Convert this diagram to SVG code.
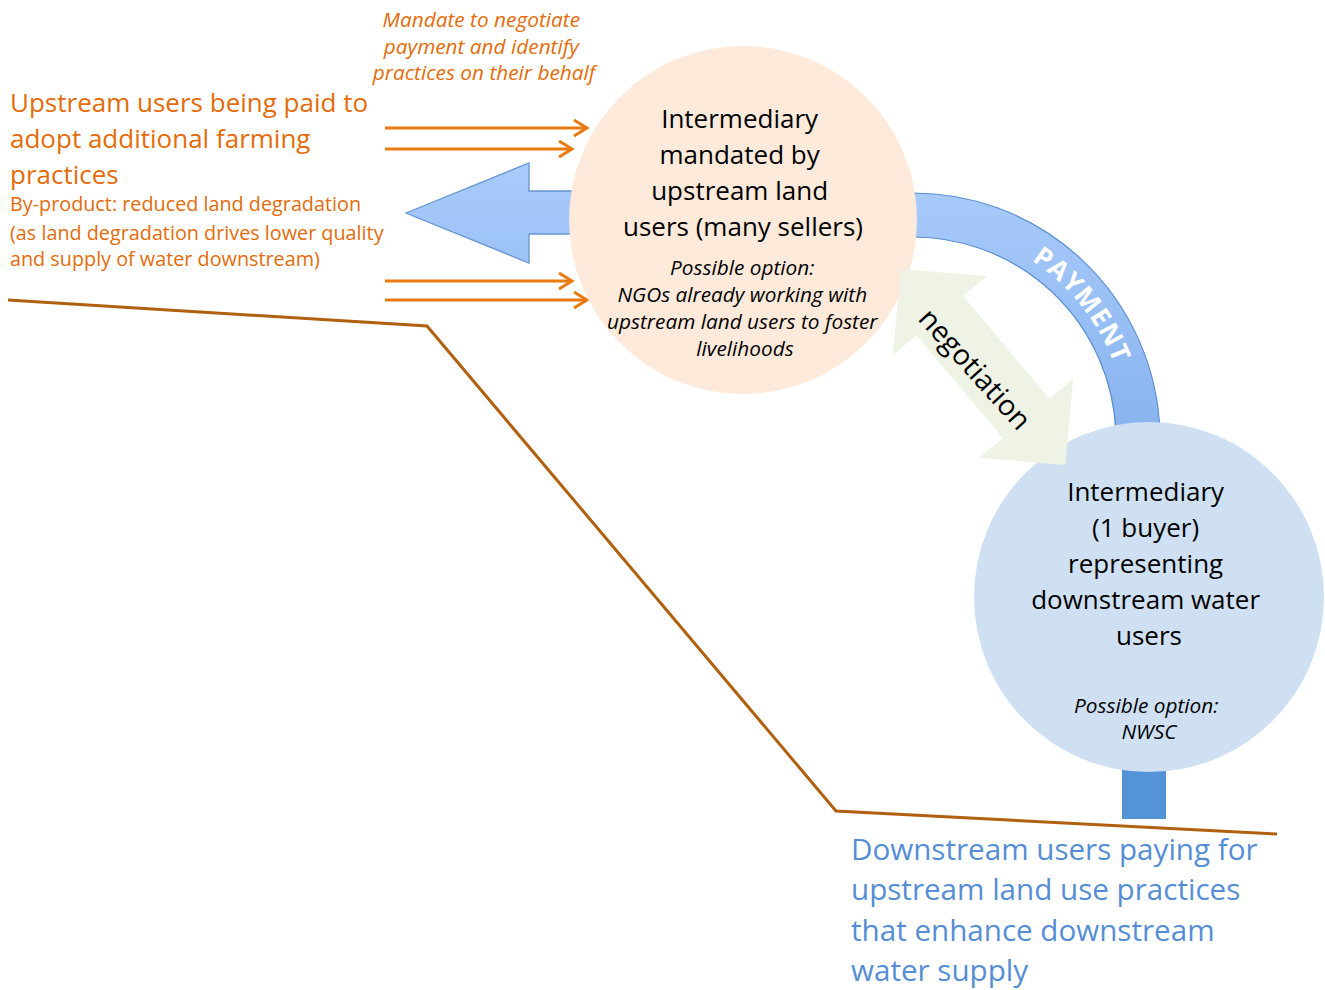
<svg xmlns="http://www.w3.org/2000/svg" width="1325" height="990" viewBox="0 0 1325 990">
<style>
.t{font-family:"Open Sans","DejaVu Sans",sans-serif}
.or{fill:#e46c0a}
.bk{fill:#000}
.bl{fill:#558ed5}
.it{font-style:italic}
.big{font-size:26px}
.sm{font-size:20.8px}
.oline{stroke:#ea7a10;stroke-width:3;fill:none}
</style>
<defs>
<marker id="chev" markerUnits="userSpaceOnUse" markerWidth="20" markerHeight="22" refX="16" refY="11" orient="auto">
<path d="M3,3 L16,11 L3,19" fill="none" stroke="#ea7a10" stroke-width="3"/>
</marker>
<linearGradient id="gArrow" x1="0" y1="0" x2="0" y2="1">
<stop offset="0" stop-color="#a9cbfc"/>
<stop offset="1" stop-color="#9cc2f6"/>
</linearGradient>
<linearGradient id="gArc" x1="0" y1="0" x2="0" y2="1">
<stop offset="0" stop-color="#a8cafb"/>
<stop offset="1" stop-color="#88b3ee"/>
</linearGradient>
<path id="payPath" d="M955.5,229.2 A215,215 0 0 1 1127.9,445.3"/>
</defs>

<g id="ground">
<polyline points="8,300 427,326 836,811 1277,834" fill="none" stroke="#b0600e" stroke-width="3"/>
</g>

<g id="connectors">
<g id="orange-arrows">
<line class="oline" x1="385" y1="128" x2="587" y2="128" marker-end="url(#chev)"/>
<line class="oline" x1="385" y1="149" x2="572" y2="149" marker-end="url(#chev)"/>
<line class="oline" x1="385" y1="281" x2="572" y2="281" marker-end="url(#chev)"/>
<line class="oline" x1="385" y1="300" x2="587" y2="300" marker-end="url(#chev)"/>
</g>
<path id="benefit-arrow" d="M406,213 L529,163 L529,191 L640,191 L640,234 L529,234 L529,263 Z" fill="url(#gArrow)" stroke="#6595d3" stroke-width="1.3"/>
<path id="payment-arc" d="M904.38,193.15 A247,247 0 0 1 1159.85,431.38 L1115.88,432.92 A203,203 0 0 0 905.92,237.12 Z" fill="url(#gArc)" stroke="#5a8fd1" stroke-width="1.2"/>
<text class="t" font-size="26.5" font-weight="bold" fill="#fff" letter-spacing="1"><textPath href="#payPath" startOffset="50%" text-anchor="middle">PAYMENT</textPath></text>
</g>

<g id="node-upstream-intermediary">
<circle cx="743" cy="220" r="174" fill="#fdeadb"/>
<text class="t big bk" text-anchor="middle">
<tspan x="743" y="128">Intermediary</tspan>
<tspan x="743" y="164">mandated by</tspan>
<tspan x="743" y="200">upstream land</tspan>
<tspan x="743" y="236">users (many sellers)</tspan>
</text>
<text class="t sm it bk" text-anchor="middle">
<tspan x="745" y="275">Possible option:</tspan>
<tspan x="745" y="302">NGOs already working with</tspan>
<tspan x="745" y="329">upstream land users to foster</tspan>
<tspan x="745" y="356">livelihoods</tspan>
</text>
</g>

<g id="node-downstream-intermediary">
<rect x="1122" y="760" width="44" height="59" fill="#5593d7"/>
<circle cx="1149" cy="597" r="175" fill="#cfe0f3"/>
<text class="t big bk" text-anchor="middle">
<tspan x="1149" y="501">Intermediary</tspan>
<tspan x="1149" y="537">(1 buyer)</tspan>
<tspan x="1149" y="573">representing</tspan>
<tspan x="1149" y="609">downstream water</tspan>
<tspan x="1149" y="645">users</tspan>
</text>
<text class="t sm it bk" text-anchor="middle">
<tspan x="1149" y="713">Possible option:</tspan>
<tspan x="1149" y="739">NWSC</tspan>
</text>
</g>

<g id="negotiation">
<polygon transform="translate(983,367) rotate(50)" points="-128,0 -67,-61.5 -67,-30.5 67,-30.5 67,-61.5 128,0 67,61.5 67,30.5 -67,30.5 -67,61.5" fill="#eff3e5"/>
<text class="t" font-size="28.5" fill="#000" text-anchor="middle" transform="translate(975,369) rotate(48)" x="0" y="10">negotiation</text>
</g>

<g id="mandate-label">
<text class="t sm it or" text-anchor="middle">
<tspan x="484" y="27">Mandate to negotiate</tspan>
<tspan x="484" y="54">payment and identify</tspan>
<tspan x="484" y="80">practices on their behalf</tspan>
</text>
</g>

<g id="upstream-users">
<text class="t big or">
<tspan x="10" y="112">Upstream users being paid to</tspan>
<tspan x="10" y="148">adopt additional farming</tspan>
<tspan x="10" y="184">practices</tspan>
</text>
<text class="t or" font-size="19.8">
<tspan x="10" y="211">By-product: reduced land degradation</tspan>
<tspan x="10" y="240">(as land degradation drives lower quality</tspan>
<tspan x="10" y="266">and supply of water downstream)</tspan>
</text>
</g>

<g id="downstream-users">
<text class="t bl" font-size="29.6">
<tspan x="851" y="860">Downstream users paying for</tspan>
<tspan x="851" y="900">upstream land use practices</tspan>
<tspan x="851" y="941">that enhance downstream</tspan>
<tspan x="851" y="981">water supply</tspan>
</text>
</g>
</svg>
